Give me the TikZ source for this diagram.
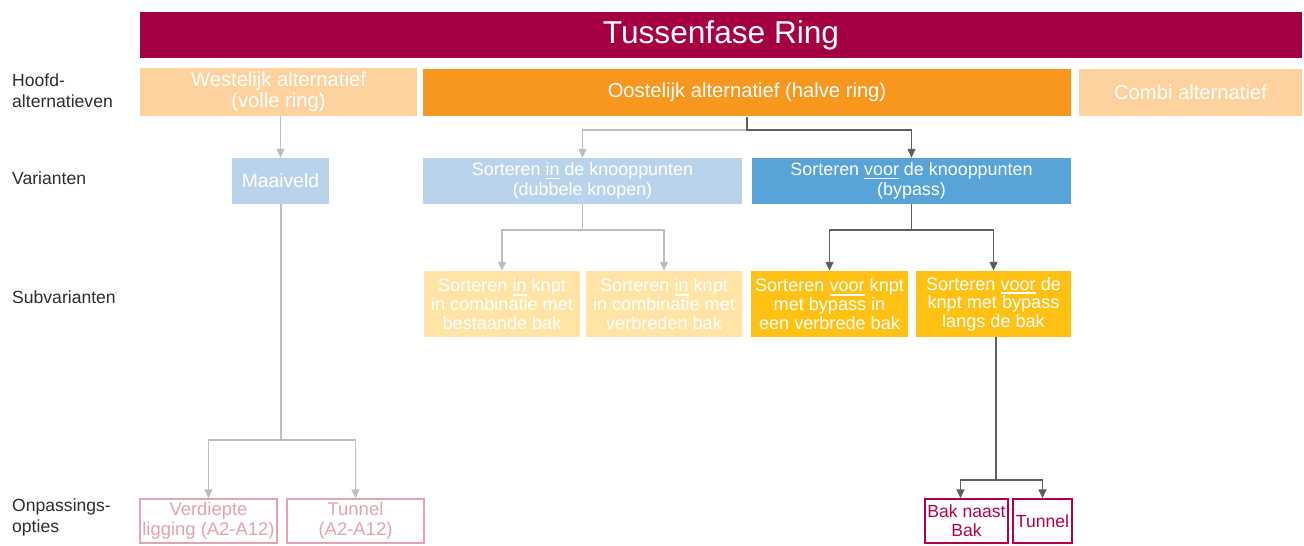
\documentclass[tikz,border=0pt]{standalone}
\usepackage{fontspec}
\setmainfont{Liberation Sans}
\usetikzlibrary{arrows.meta}

\definecolor{ringred}{RGB}{165,0,68}
\definecolor{orangelight}{RGB}{253,210,158}
\definecolor{orangefull}{RGB}{247,151,30}
\definecolor{bluelight}{RGB}{186,211,236}
\definecolor{bluefull}{RGB}{88,163,215}
\definecolor{yellowlight}{RGB}{255,228,166}
\definecolor{yellowfull}{RGB}{254,193,20}
\definecolor{pinkline}{RGB}{228,163,176}
\definecolor{redline}{RGB}{176,0,78}
\definecolor{greylight}{RGB}{190,190,190}
\definecolor{greydark}{RGB}{95,95,95}
\definecolor{labeltext}{RGB}{45,45,45}

\newcommand\ulword[1]{\setbox0\hbox{#1}\rlap{\rule[-2.2pt]{\wd0}{0.9pt}}\box0\relax}

\tikzset{
    box/.style={rectangle, inner sep=1pt, align=center, text=white,
        font=\fontsize{10.2}{11.4}\selectfont},
    mainbox/.style={box, minimum height=0.95cm,
        font=\fontsize{11.5}{12.2}\selectfont},
    subbox/.style={box, minimum height=1.32cm,
        font=\fontsize{10.3}{10.6}\selectfont},
    optbox/.style={box, minimum height=0.88cm, fill=white, line width=0.9pt,
        font=\fontsize{10.5}{11.4}\selectfont},
    rowlabel/.style={anchor=west, align=left, text=labeltext,
        font=\fontsize{10}{12}\selectfont},
    linklight/.style={draw=greylight, line width=0.8pt},
    linkdark/.style={draw=greydark, line width=0.8pt},
    tip/.style={-{Triangle[length=5pt,width=4.5pt]}}
}

\begin{document}
\begin{tikzpicture}[x=0.02cm, y=-0.02cm]
    \useasboundingbox (0,0) rectangle (1304,545);

    % top bar
    \node[box, fill=ringred, minimum width=23.24cm, minimum height=0.92cm,
        font=\fontsize{18}{20}\selectfont] (title) at (721,35) {Tussenfase Ring};

    % row labels
    \node[rowlabel] (lhoofd) at (6,91) {Hoofd-\\alternatieven};
    \node[rowlabel] (lvar) at (6,178) {Varianten};
    \node[rowlabel] (lsub) at (6,297) {Subvarianten};
    \node[rowlabel] (lopt) at (6,517) {Onpassings-\\opties};

    % hoofdalternatieven
    \node[mainbox, fill=orangelight, minimum width=5.54cm]
        (west) at (278.5,92) {Westelijk alternatief\\(volle ring)};
    \node[mainbox, fill=orangefull, minimum width=12.96cm]
        (oost) at (747,92.5) {Oostelijk alternatief (halve ring)};
    \node[mainbox, fill=orangelight, minimum width=4.46cm]
        (combi) at (1190.5,92.5) {Combi alternatief};

    % varianten
    \node[box, fill=bluelight, minimum width=1.94cm, minimum height=0.92cm,
        font=\fontsize{11}{12}\selectfont] (maaiveld) at (280.5,181) {Maaiveld};
    \node[box, fill=bluelight, minimum width=6.38cm, minimum height=0.92cm]
        (sortin) at (582.5,181) {Sorteren \ulword{in} de knooppunten\\(dubbele knopen)};
    \node[box, fill=bluefull, minimum width=6.38cm, minimum height=0.92cm]
        (sortvoor) at (911.5,181) {Sorteren \ulword{voor} de knooppunten\\(bypass)};

    % subvarianten
    \node[subbox, fill=yellowlight, minimum width=3.12cm] (subone) at (502,304)
        {Sorteren \ulword{in} knpt\\in combinatie met\\bestaande bak};
    \node[subbox, fill=yellowlight, minimum width=3.12cm] (subtwo) at (664,304)
        {Sorteren \ulword{in} knpt\\in combinatie met\\verbreden bak};
    \node[subbox, fill=yellowfull, minimum width=3.14cm] (subthree) at (829.5,304)
        {Sorteren \ulword{voor} knpt\\met bypass in\\een verbrede bak};
    \node[subbox, fill=yellowfull, minimum width=3.1cm] (subfour) at (993.5,304)
        {Sorteren \ulword{voor} de\\knpt met bypass\\langs de bak};

    % inpassingsopties
    \node[optbox, draw=pinkline, text=pinkline, minimum width=2.74cm]
        (optone) at (208.5,521) {Verdiepte\\ligging (A2-A12)};
    \node[optbox, draw=pinkline, text=pinkline, minimum width=2.74cm]
        (opttwo) at (355.5,521) {Tunnel\\(A2-A12)};
    \node[optbox, draw=redline, text=redline, minimum width=1.66cm,
        font=\fontsize{10}{11}\selectfont] (optthree) at (966.5,521) {Bak naast\\Bak};
    \node[optbox, draw=redline, text=redline, minimum width=1.18cm,
        font=\fontsize{10}{11}\selectfont] (optfour) at (1042.5,521) {Tunnel};
    \foreach \opt/\col in {optone/pinkline, opttwo/pinkline, optthree/redline, optfour/redline}
        \draw[\col, line width=0.9pt] ([yshift=-0.07cm]\opt.south west) -- ([yshift=-0.07cm]\opt.south east);

    % split points
    \coordinate (oostsplit) at (747,130);
    \coordinate (insplit) at (582.5,230);
    \coordinate (voorsplit) at (911.5,230);
    \coordinate (maaisplit) at (281,440);
    \coordinate (bypasssplit) at (996,480);

    % connectors
    \draw[linklight, tip] (maaiveld.north |- west.south) -- (maaiveld.north);
    \draw[linklight, tip] (oostsplit) -| (sortin.north);
    \draw[linkdark, tip] (oost.south) -- (oostsplit) -| (sortvoor.north);

    \draw[linklight] (sortin.south) -- (insplit);
    \draw[linklight, tip] (insplit) -| (subone.north);
    \draw[linklight, tip] (insplit) -| (subtwo.north);

    \draw[linkdark] (sortvoor.south) -- (voorsplit);
    \draw[linkdark, tip] (voorsplit) -| (subthree.north);
    \draw[linkdark, tip] (voorsplit) -| (subfour.north);

    \draw[linklight] (maaiveld.south -| maaisplit) -- (maaisplit);
    \draw[linklight, tip] (maaisplit) -| (optone.north);
    \draw[linklight, tip] (maaisplit) -| (opttwo.north);

    \draw[linkdark] (subfour.south -| bypasssplit) -- (bypasssplit);
    \draw[linkdark, tip] (bypasssplit) -| ([xshift=-0.12cm]optthree.north);
    \draw[linkdark, tip] (bypasssplit) -| (optfour.north);
\end{tikzpicture}
\end{document}
